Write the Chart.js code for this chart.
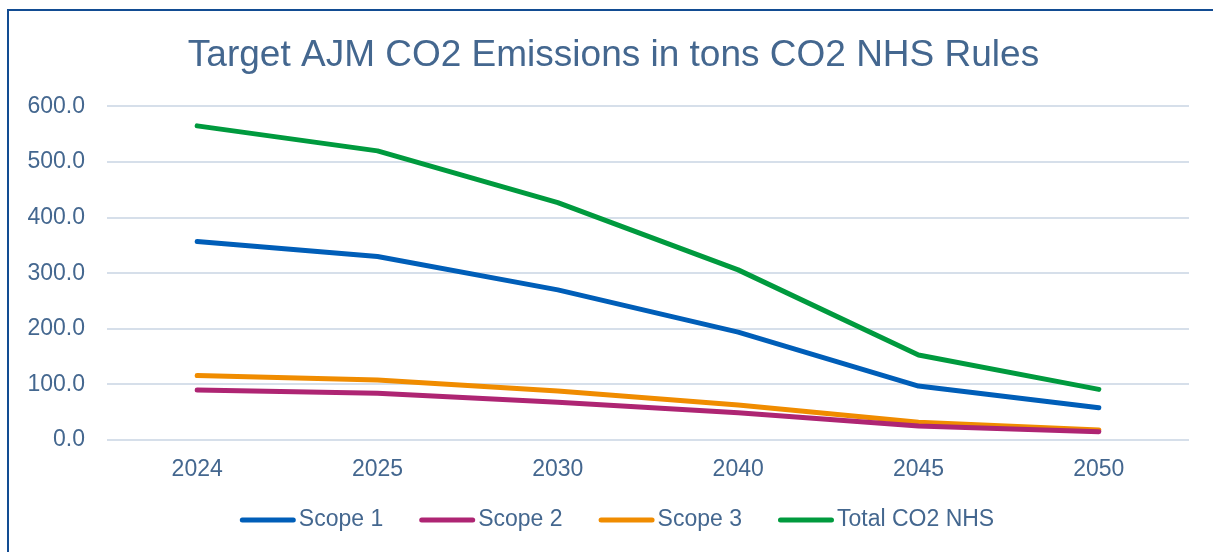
<!DOCTYPE html>
<html>
<head>
<meta charset="utf-8">
<script src="https://cdn.jsdelivr.net/npm/chart.js@4/dist/chart.umd.min.js"></script>
<style>
  html, body { margin: 0; padding: 0; background: #fff; }
  #wrap { position: relative; width: 1213px; height: 552px; overflow: hidden; }
  #frame { position: absolute; left: 7px; top: 9px; width: 1300px; height: 700px;
           border-left: 2px solid #124C92; border-top: 2px solid #124C92; pointer-events: none; }
  canvas { position: absolute; left: 0; top: 0; }
</style>
</head>
<body>
<div id="wrap">
  <canvas id="c" width="1213" height="552"></canvas>
  <div id="frame"></div>
</div>
<script>
const categories = ['2024', '2025', '2030', '2040', '2045', '2050'];
const scope1 = [357, 330, 270, 194, 97, 58];
const scope2 = [90, 84, 68, 49, 25, 15];
const scope3 = [116, 108, 88, 63, 32, 18];
const totalCO2 = [565, 520, 427, 306, 153, 91];
const yTickLabels = ['0.0', '100.0', '200.0', '300.0', '400.0', '500.0', '600.0'];
const seriesNames = ['Scope 1', 'Scope 2', 'Scope 3', 'Total CO2 NHS'];
const seriesColors = ['#005EB8', '#AE2573', '#F08C00', '#009A3E'];
const seriesData = [scope1, scope2, scope3, totalCO2];

const textColor = '#44678F';
const fontFamily = '"Liberation Sans", Arial, sans-serif';

const datasets = seriesData.map((d, i) => ({
  label: seriesNames[i],
  data: d,
  borderColor: seriesColors[i],
  backgroundColor: seriesColors[i],
  borderWidth: 5,
  borderCapStyle: 'round',
  borderJoinStyle: 'round',
  pointRadius: 0,
  pointHoverRadius: 0,
  tension: 0,
  fill: false
}));

// Legend drawn with line swatches (Excel style) from the dataset list
const lineLegend = {
  id: 'lineLegend',
  afterDraw(chart) {
    const ctx = chart.ctx;
    const fontSize = 23;
    const swatch = 56, gap = 3, itemGap = 36, centerX = 617, y = 520;
    ctx.save();
    ctx.font = fontSize + 'px ' + fontFamily;
    const items = chart.data.datasets.map(ds => ({
      text: ds.label, color: ds.borderColor, w: swatch + gap + ctx.measureText(ds.label).width
    }));
    const total = items.reduce((s, it) => s + it.w, 0) + itemGap * (items.length - 1);
    let x = centerX - total / 2;
    items.forEach(it => {
      ctx.strokeStyle = it.color;
      ctx.lineWidth = 5;
      ctx.lineCap = 'round';
      ctx.beginPath();
      ctx.moveTo(x + 2.5, y);
      ctx.lineTo(x + swatch - 2.5, y);
      ctx.stroke();
      ctx.fillStyle = textColor;
      ctx.textBaseline = 'middle';
      ctx.textAlign = 'left';
      ctx.fillText(it.text, x + swatch + gap, y);
      x += it.w + itemGap;
    });
    ctx.restore();
  }
};

new Chart(document.getElementById('c'), {
  type: 'line',
  data: { labels: categories, datasets },
  plugins: [lineLegend],
  options: {
    responsive: false,
    animation: false,
    devicePixelRatio: 1,
    layout: { padding: { left: 14, right: 0, top: 0, bottom: 0 } },
    plugins: {
      title: {
        display: true,
        text: 'Target AJM CO2 Emissions in tons CO2 NHS Rules',
        color: textColor,
        font: { family: fontFamily, size: 37, weight: 'normal' },
        padding: { top: 34, bottom: 28 }
      },
      legend: { display: false },
      tooltip: { enabled: false }
    },
    scales: {
      x: {
        offset: true,
        grid: { display: false, drawTicks: false },
        border: { display: false },
        ticks: { color: textColor, font: { family: fontFamily, size: 23 }, padding: 16 },
        afterFit: (axis) => { axis.height = 112; }
      },
      y: {
        min: 0,
        max: 600,
        grid: { color: '#D6DFEA', lineWidth: 2, drawTicks: false },
        border: { display: false },
        ticks: {
          stepSize: 100,
          color: textColor,
          font: { family: fontFamily, size: 23 },
          padding: 22,
          callback: (v) => yTickLabels[Math.round(v / 100)]
        },
        afterFit: (axis) => { axis.width = 93; }
      },
      yRightSpace: {
        type: 'linear',
        position: 'right',
        min: 0,
        max: 600,
        display: true,
        grid: { display: false, drawTicks: false },
        border: { display: false },
        ticks: { display: false },
        afterFit: (axis) => { axis.width = 24; }
      }
    }
  }
});
</script>
</body>
</html>
